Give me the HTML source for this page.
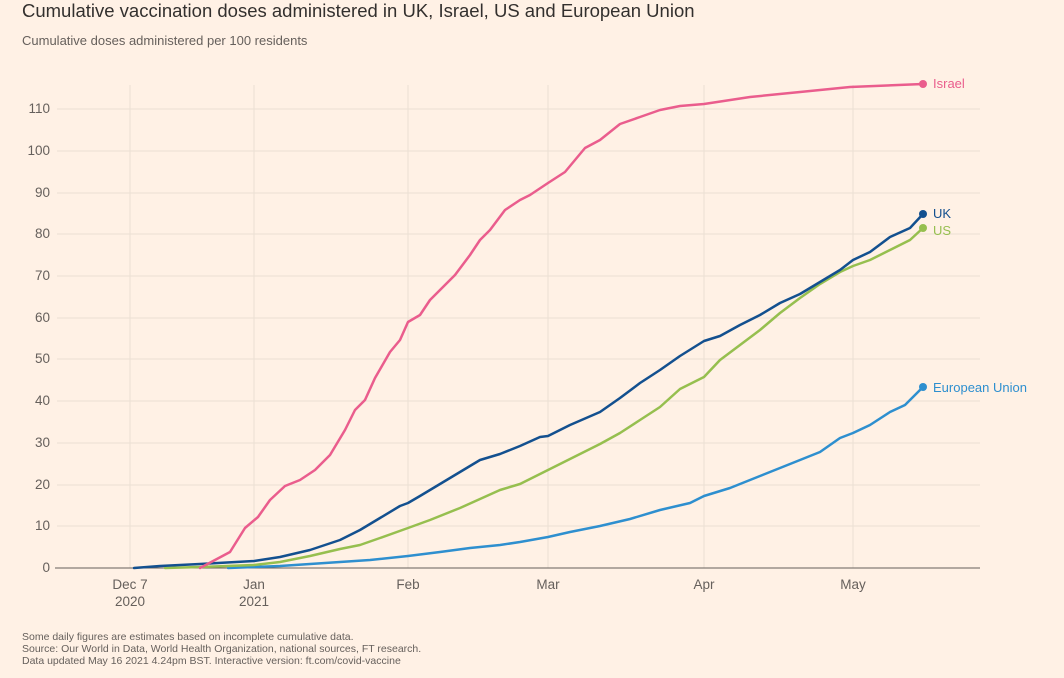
<!DOCTYPE html>
<html><head><meta charset="utf-8"><style>
body{margin:0;background:#fff1e5;width:1064px;height:673px;overflow:hidden;font-family:"Liberation Sans",sans-serif}
</style></head><body>
<svg width="1064" height="673" xmlns="http://www.w3.org/2000/svg" font-family="Liberation Sans, sans-serif">
<rect width="1064" height="673" fill="#fff1e5"/>
<text x="22" y="17" font-size="18.5" fill="#33302e">Cumulative vaccination doses administered in UK, Israel, US and European Union</text>
<text x="22" y="45" font-size="13" fill="#66605c">Cumulative doses administered per 100 residents</text>
<g stroke="#ebdfd4" stroke-width="1">
<line x1="130" y1="85" x2="130" y2="568"/><line x1="254" y1="85" x2="254" y2="568"/><line x1="408" y1="85" x2="408" y2="568"/><line x1="548" y1="85" x2="548" y2="568"/><line x1="704" y1="85" x2="704" y2="568"/><line x1="853" y1="85" x2="853" y2="568"/>
<line x1="57" y1="109" x2="980" y2="109"/><line x1="57" y1="151" x2="980" y2="151"/><line x1="57" y1="193" x2="980" y2="193"/><line x1="57" y1="234" x2="980" y2="234"/><line x1="57" y1="276" x2="980" y2="276"/><line x1="57" y1="318" x2="980" y2="318"/><line x1="57" y1="359" x2="980" y2="359"/><line x1="57" y1="401" x2="980" y2="401"/><line x1="57" y1="443" x2="980" y2="443"/><line x1="57" y1="485" x2="980" y2="485"/><line x1="57" y1="526" x2="980" y2="526"/>
</g>
<line x1="55" y1="568" x2="980" y2="568" stroke="#66605c" stroke-width="1"/>
<g font-size="13.5" fill="#66605c" text-anchor="end">
<text x="50" y="113">110</text><text x="50" y="155">100</text><text x="50" y="197">90</text><text x="50" y="238">80</text><text x="50" y="280">70</text><text x="50" y="322">60</text><text x="50" y="363">50</text><text x="50" y="405">40</text><text x="50" y="447">30</text><text x="50" y="489">20</text><text x="50" y="530">10</text><text x="50" y="572">0</text>
</g>
<g font-size="13.5" fill="#66605c" text-anchor="middle">
<text x="130" y="589">Dec 7</text><text x="130" y="606">2020</text>
<text x="254" y="589">Jan</text><text x="254" y="606">2021</text>
<text x="408" y="589">Feb</text><text x="548" y="589">Mar</text><text x="704" y="589">Apr</text><text x="853" y="589">May</text>
</g>
<g fill="none" stroke-width="2.5" stroke-linejoin="round" stroke-linecap="round">
<polyline stroke="#2e8fcf" points="228,568 254,567 280,566 310,564 340,562 370,560 408,556 440,552 470,548 500,545 520,542 548,537 570,532 600,526 630,519 660,510 690,503 704,496 730,488 760,476 790,464 820,452 840,438 853,433 870,425 890,412 905,405 923,387"/>
<polyline stroke="#96bf4f" points="165,568 200,567 254,565 280,562 310,556 340,549 360,545 380,538 408,528 430,520 460,508 480,499 500,490 520,484 548,470 570,459 600,444 620,433 640,420 660,407 680,389 704,377 720,360 740,345 760,330 780,313 800,298 820,284 840,272 853,266 870,260 890,250 910,240 923,228"/>
<polyline stroke="#13508f" points="134,568 160,566 200,564 254,561 280,557 310,550 340,540 360,530 380,518 400,506 408,503 420,496 440,484 460,472 480,460 500,454 520,446 540,437 548,436 570,425 600,412 620,398 640,383 660,370 680,356 704,341 720,336 740,325 760,315 780,303 800,294 820,282 840,270 853,260 870,252 890,237 910,228 923,214"/>
<polyline stroke="#ea5d8d" points="200,568 215,560 230,552 245,528 258,517 270,500 285,486 300,480 315,470 330,455 345,430 355,410 365,400 375,378 390,352 400,340 408,322 420,315 430,300 440,290 455,275 470,255 480,240 490,230 505,210 520,200 530,195 548,183 565,172 585,148 600,140 620,124 640,117 660,110 680,106 704,104 750,97 800,92 850,87 923,84"/>
</g>
<circle cx="923" cy="84" r="4" fill="#ea5d8d"/><circle cx="923" cy="214" r="4" fill="#13508f"/><circle cx="923" cy="228" r="4" fill="#96bf4f"/><circle cx="923" cy="387" r="4" fill="#2e8fcf"/>
<g font-size="13">
<text x="933" y="88" fill="#ea5d8d">Israel</text><text x="933" y="218" fill="#13508f">UK</text><text x="933" y="235" fill="#96bf4f">US</text><text x="933" y="392" fill="#2e8fcf">European Union</text>
</g>
<g font-size="10.5" fill="#66605c">
<text x="22" y="640">Some daily figures are estimates based on incomplete cumulative data.</text>
<text x="22" y="652">Source: Our World in Data, World Health Organization, national sources, FT research.</text>
<text x="22" y="664">Data updated May 16 2021 4.24pm BST. Interactive version: ft.com/covid-vaccine</text>
</g>
</svg>
</body></html>
